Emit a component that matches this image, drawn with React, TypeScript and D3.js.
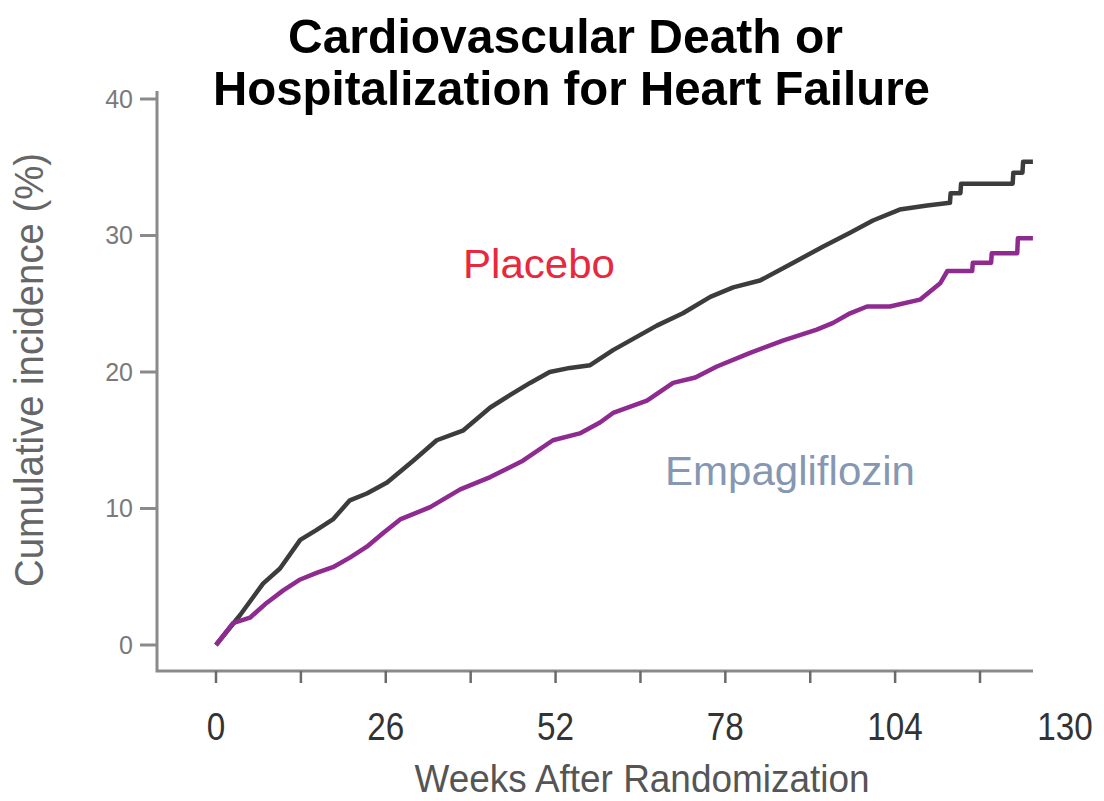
import React from "react";
import * as d3 from "d3";

const xTickWeeks = [0, 13, 26, 39, 52, 65, 78, 91, 104, 117];
const xLabelWeeks = [0, 26, 52, 78, 104, 130];
const yTicks = [0, 10, 20, 30, 40];

const placeboWeeks = [0, 3.7, 7.2, 9.8, 12.9, 15.3, 17.9, 20.5, 23.1, 26.2, 30.2, 33.8, 37.8, 42.0, 45.0, 48.1, 51.1, 54.2, 57.3, 60.8, 63.4, 67.5, 71.5, 75.7, 79.2, 83.3, 88.4, 93.0, 97.1, 100.6, 104.7, 108.9, 112.4, 112.5, 114.0, 114.1, 122.0, 122.1, 123.5, 123.6, 125.1];
const placeboValues = [0, 2.2, 4.5, 5.6, 7.7, 8.4, 9.2, 10.6, 11.1, 11.9, 13.5, 15.0, 15.7, 17.4, 18.3, 19.2, 20.0, 20.3, 20.5, 21.6, 22.3, 23.4, 24.3, 25.5, 26.2, 26.7, 28.0, 29.2, 30.2, 31.1, 31.9, 32.2, 32.4, 33.1, 33.1, 33.8, 33.8, 34.6, 34.6, 35.4, 35.4];

const empaWeeks = [0, 2.6, 5.2, 7.8, 10.3, 12.9, 15.5, 17.9, 20.5, 23.1, 25.6, 28.2, 32.8, 37.4, 42.0, 47.0, 51.6, 55.7, 58.8, 60.8, 66.0, 70.0, 73.4, 76.7, 81.8, 86.8, 92.0, 94.5, 97.1, 99.7, 103.2, 107.8, 110.9, 112.0, 115.8, 115.9, 118.7, 118.8, 122.7, 122.8, 125.1];
const empaValues = [0, 1.6, 2.0, 3.1, 4.0, 4.8, 5.3, 5.7, 6.4, 7.2, 8.2, 9.2, 10.1, 11.4, 12.3, 13.5, 15.0, 15.5, 16.3, 17.0, 17.9, 19.2, 19.6, 20.4, 21.4, 22.3, 23.1, 23.6, 24.3, 24.8, 24.8, 25.3, 26.5, 27.4, 27.4, 28.0, 28.0, 28.7, 28.7, 29.8, 29.8];

const titleLines = ["Cardiovascular Death or", "Hospitalization for Heart Failure"];

export default function App() {
  const W = 1104, H = 801;
  const x = d3.scaleLinear().domain([0, 130]).range([216, 1064.9]);
  const y = d3.scaleLinear().domain([0, 40]).range([645, 99]);
  const axisX0 = 157, axisY = 671, axisXEnd = 1033;

  const line = d3.line<[number, number]>()
    .x(d => x(d[0]))
    .y(d => y(d[1]))
    .curve(d3.curveLinear);

  const placebo: [number, number][] = placeboWeeks.map((w, i) => [w, placeboValues[i]]);
  const empa: [number, number][] = empaWeeks.map((w, i) => [w, empaValues[i]]);

  const font = "'Liberation Sans', Arial, sans-serif";

  return (
    <svg width={W} height={H} style={{ position: "absolute", left: 0, top: 0, background: "#fff" }} fontFamily={font}>
      {/* Title */}
      <text x={565.5} y={53} textAnchor="middle" fontSize={49} fontWeight="bold" fill="#000" textLength={555} lengthAdjust="spacingAndGlyphs">{titleLines[0]}</text>
      <text x={571.5} y={105} textAnchor="middle" fontSize={49} fontWeight="bold" fill="#000" textLength={717} lengthAdjust="spacingAndGlyphs">{titleLines[1]}</text>

      {/* Axes */}
      <path d={`M${axisX0},${y(40) - 8}V${axisY}H${axisXEnd}`} fill="none" stroke="#8a8a8a" strokeWidth={3} />
      {yTicks.map(t => (
        <g key={"y" + t}>
          <line x1={140} x2={axisX0} y1={y(t)} y2={y(t)} stroke="#8a8a8a" strokeWidth={3} />
          <text x={133} y={y(t)} dy="0.35em" textAnchor="end" fontSize={25} fill="#7a7a7a">{t}</text>
        </g>
      ))}
      {xTickWeeks.map(t => (
        <line key={"xt" + t} x1={x(t)} x2={x(t)} y1={axisY} y2={683} stroke="#6a6a6a" strokeWidth={2.5} />
      ))}
      {xLabelWeeks.map(t => (
        <text key={"xl" + t} x={x(t)} y={740} textAnchor="middle" fontSize={38} fill="#333"
          textLength={String(t).length * 18.5} lengthAdjust="spacingAndGlyphs">{t}</text>
      ))}

      {/* Axis titles */}
      <text x={642} y={792} textAnchor="middle" fontSize={38} fill="#555" textLength={455} lengthAdjust="spacingAndGlyphs">Weeks After Randomization</text>
      <text transform={`translate(43,370) rotate(-90)`} textAnchor="middle" fontSize={41} fill="#666" textLength={434} lengthAdjust="spacingAndGlyphs">Cumulative incidence (%)</text>

      {/* Curves */}
      <path d={line(placebo) || ""} fill="none" stroke="#3c3c3c" strokeWidth={4.5} strokeLinejoin="round" />
      <path d={line(empa) || ""} fill="none" stroke="#8e2a90" strokeWidth={4.5} strokeLinejoin="round" />

      {/* Labels */}
      <text x={463} y={278} fontSize={40} fill="#e8283c" textLength={152} lengthAdjust="spacingAndGlyphs">Placebo</text>
      <text x={665} y={485} fontSize={40} fill="#8597b2" textLength={250} lengthAdjust="spacingAndGlyphs">Empagliflozin</text>
    </svg>
  );
}
